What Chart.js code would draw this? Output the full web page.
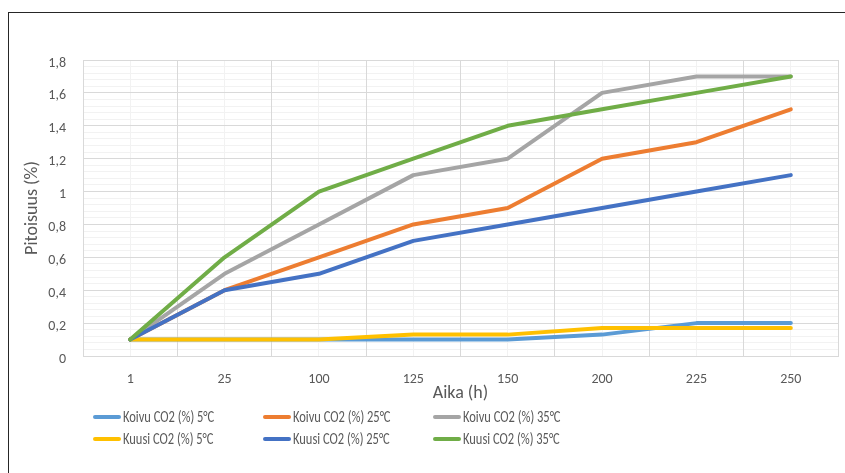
<!DOCTYPE html>
<html>
<head>
<meta charset="utf-8">
<script src="https://cdn.jsdelivr.net/npm/chart.js@4"></script>
<style>
  body { margin: 0; background: #fff; }
  #wrap { position: relative; width: 845px; height: 473px; }
  #frame { position: absolute; left: 8px; top: 12px; right: 0; bottom: 0;
           border-top: 1px solid #262626; border-left: 1px solid #262626; pointer-events: none; }
</style>
</head>
<body>
<div id="wrap">
  <canvas id="chart" width="845" height="473"></canvas>
  <div id="frame"></div>
</div>
<script>
// data
var hours = ['1', '25', '100', '125', '150', '200', '225', '250'];
var koivu5 = [0.1, 0.1, 0.1, 0.1, 0.1, 0.13, 0.2, 0.2];
var koivu25 = [0.1, 0.4, 0.6, 0.8, 0.9, 1.2, 1.3, 1.5];
var koivu35 = [0.1, 0.5, 0.8, 1.1, 1.2, 1.6, 1.7, 1.7];
var kuusi5 = [0.1, 0.1, 0.1, 0.13, 0.13, 0.17, 0.17, 0.17];
var kuusi25 = [0.1, 0.4, 0.5, 0.7, 0.8, 0.9, 1.0, 1.1];
var kuusi35 = [0.1, 0.6, 1.0, 1.2, 1.4, 1.5, 1.6, 1.7];

var seriesNames = ['Koivu CO2 (%) 5°C', 'Koivu CO2 (%) 25°C', 'Koivu CO2 (%) 35°C',
                   'Kuusi CO2 (%) 5°C', 'Kuusi CO2 (%) 25°C', 'Kuusi CO2 (%) 35°C'];
var seriesValues = [koivu5, koivu25, koivu35, kuusi5, kuusi25, kuusi35];
var seriesColors = ['#5B9BD5', '#ED7D31', '#A5A5A5', '#FFC000', '#4472C4', '#70AD47'];

var FONT = 'Carlito, Lato, sans-serif';
var TEXT = '#595959';

function commaLabel(v) {
    return String(+v.toFixed(2)).replace('.', ',');
}

// legend laid out in three fixed columns like the original (narrow text)
var gridLegend = {
    id: 'gridLegend',
    afterDraw: function (chart) {
        var ctx = chart.ctx;
        ctx.save();
        ctx.font = '16px ' + FONT;
        ctx.textBaseline = 'middle';
        chart.data.datasets.forEach(function (ds, i) {
            var x = 93 + (i % 3) * 170;
            var y = 417 + Math.floor(i / 3) * 22;
            ctx.strokeStyle = ds.borderColor;
            ctx.lineWidth = 4;
            ctx.lineCap = 'round';
            ctx.beginPath();
            ctx.moveTo(x + 2, y);
            ctx.lineTo(x + 26, y);
            ctx.stroke();
            ctx.save();
            ctx.translate(x + 30, y + 1);
            ctx.scale(0.78, 1);
            ctx.fillStyle = TEXT;
            ctx.fillText(ds.label, 0, 0);
            ctx.restore();
        });
        ctx.restore();
    }
};

var datasets = seriesNames.map(function (name, i) {
    return {
        label: name,
        data: seriesValues[i],
        borderColor: seriesColors[i],
        backgroundColor: seriesColors[i],
        borderWidth: 4,
        borderCapStyle: 'round',
        borderJoinStyle: 'round',
        pointRadius: 0,
        tension: 0,
        fill: false,
        order: seriesNames.length - i
    };
});

new Chart(document.getElementById('chart'), {
    type: 'line',
    data: { labels: hours, datasets: datasets },
    plugins: [gridLegend],
    options: {
        responsive: false,
        animation: false,
        layout: { padding: { left: 20, top: 60, right: 7, bottom: 69 } },
        plugins: {
            legend: { display: false },
            tooltip: { enabled: false }
        },
        scales: {
            x: {
                type: 'category',
                offset: true,
                grid: { offset: true, color: '#d9d9d9', drawTicks: false },
                border: { color: '#d9d9d9' },
                ticks: { color: TEXT, font: { family: FONT, size: 14 }, padding: 15, maxRotation: 0 },
                title: { display: true, text: 'Aika (h)', color: TEXT,
                         font: { family: FONT, size: 18 }, padding: { top: 0, bottom: 0 } },
                afterFit: function (s) { s.height = 48; }
            },
            x2: {
                type: 'category',
                labels: hours,
                position: 'bottom',
                offset: true,
                grid: { offset: false, color: '#f2f2f2', drawTicks: false, z: -2 },
                border: { display: false },
                ticks: { display: false },
                afterFit: function (s) { s.height = 0; }
            },
            y: {
                min: 0,
                max: 1.8,
                grid: { color: '#d9d9d9', drawTicks: false },
                border: { color: '#d9d9d9' },
                ticks: { stepSize: 0.2, color: TEXT, font: { family: FONT, size: 14 },
                         padding: 17, labelOffset: 3, callback: commaLabel },
                title: { display: true, text: 'Pitoisuus (%)', color: TEXT,
                         font: { family: FONT, size: 18 }, padding: { top: 2, bottom: 0 } },
                afterFit: function (s) { s.width = 63; }
            },
            y2: {
                position: 'left',
                min: 0,
                max: 1.8,
                grid: { color: '#f2f2f2', drawTicks: false, z: -2 },
                border: { display: false },
                ticks: { display: false, stepSize: 0.04 },
                afterFit: function (s) { s.width = 0; }
            }
        }
    }
});
</script>
</body>
</html>
